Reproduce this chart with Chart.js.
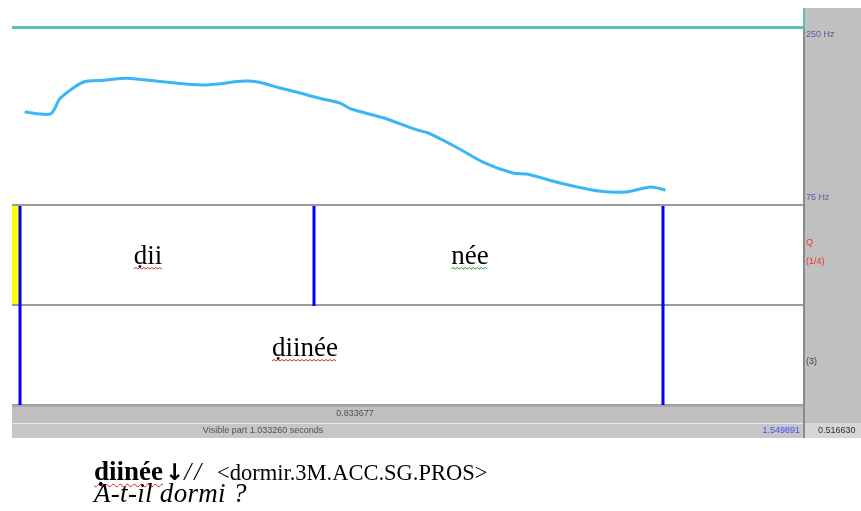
<!DOCTYPE html>
<html>
<head>
<meta charset="utf-8">
<script src="https://cdn.jsdelivr.net/npm/chart.js@4"></script>
<style>
  body { margin: 0; background: #ffffff; }
  #wrap { position: relative; width: 861px; height: 511px; }
  .gl { position: absolute; left: 94px; font-family: "Liberation Serif", "Times New Roman", serif; color: #000; white-space: nowrap; }
  #line1 { top: 458px; font-size: 27px; line-height: 27px; }
  #line2 { top: 480px; font-size: 27px; line-height: 27px; font-style: italic; letter-spacing: 0.3px; }
  #line1 .w { font-weight: bold; text-decoration: underline wavy #e02020; text-decoration-thickness: 1px; text-underline-offset: 3px; text-decoration-skip-ink: none; }
  #line1 .arr { font-family: "DejaVu Sans", sans-serif; font-weight: bold; font-size: 23px; margin-left: 2px; }
  #line1 .sl { font-style: italic; font-size: 25px; letter-spacing: 3px; }
  #line1 .tag { font-size: 22.5px; margin-left: 6px; }
</style>
</head>
<body>
<div id="wrap">
  <canvas id="chart"></canvas>
  <div class="gl" id="line1"><span class="w">ḍiinée</span><span class="arr">↓</span><span class="sl">//</span> <span class="tag">&lt;dormir.3M.ACC.SG.PROS&gt;</span></div>
  <div class="gl" id="line2">A-t-il dormi ?</div>
</div>
<script>
// visible window (seconds) and pitch range (Hz)
const tStart = 0.516631;
const tEnd = 1.549891;
const pitchMin = 75;
const pitchMax = 250;
const pitchLabels = ["250 Hz", "75 Hz"];

// pitch contour
const times = [0.5332, 0.5669, 0.5799, 0.6100, 0.6368, 0.6669, 0.7165, 0.7661, 0.8197, 0.8380,
               0.8667, 0.8883, 0.9170, 0.9451, 0.9595, 1.0026, 1.0457, 1.0600, 1.0966, 1.1318,
               1.1711, 1.1893, 1.2324, 1.2829, 1.3187, 1.3509, 1.3704];
const hz = [166.9, 165.0, 180.8, 196.6, 198.4, 200.4, 196.5, 193.6, 197.5, 196.6,
            190.7, 186.7, 180.8, 175.8, 169.9, 161.0, 149.2, 146.2, 132.3, 117.5,
            106.6, 105.6, 96.8, 88.8, 87.9, 92.8, 89.8];

// text grid: boundaries (s) and labels
const tier1Bounds = [0.5271, 0.9111, 1.3670];
const tier1Labels = ["ḍii", "née"];
const tier2Bounds = [0.5271, 1.3670];
const tier2Labels = ["ḍiinée"];
const tierNames = [["Q", "(1/4)"], ["(3)"]];

const selDuration = "0.833677";
const visibleText = "Visible part 1.033260 seconds";
const endText = "1.549891";
const restText = "0.516630";

// layout
const left = 12, right = 803, pitchTop = 28, tier1Top = 205, tier2Top = 305, tierBottom = 405;
const bar1Bottom = 423, bar2Bottom = 438;
const tier1LabelX = [148, 470];   // label centres as placed in the screenshot
const tier2LabelX = [305];
const serif = '"Liberation Serif", "Times New Roman", serif';
const sans = '"Liberation Sans", Arial, sans-serif';

function squiggle(ctx, x0, x1, y, color) {
    ctx.save();
    ctx.strokeStyle = color;
    ctx.lineWidth = 1;
    ctx.beginPath();
    let up = true;
    ctx.moveTo(x0, y);
    for (let x = x0 + 2; x <= x1; x += 2) {
        ctx.lineTo(x, up ? y - 1.5 : y);
        up = !up;
    }
    ctx.stroke();
    ctx.restore();
}

const praatFrame = {
    id: 'praatFrame',
    beforeDraw(chart) {
        const ctx = chart.ctx;
        const xs = chart.scales.x;
        ctx.save();
        // right side panel
        ctx.fillStyle = '#c0c0c0';
        ctx.fillRect(right, 8, 861 - right, bar1Bottom - 8);
        ctx.fillStyle = '#d6d6d6';
        ctx.fillRect(right, bar1Bottom, 861 - right, bar2Bottom - bar1Bottom);
        ctx.fillStyle = '#8a8a8a';
        ctx.fillRect(right, 8, 2, bar2Bottom - 8);

        // teal frame line
        ctx.fillStyle = '#5cbfb5';
        ctx.fillRect(left, pitchTop - 2, right - left + 1, 3);
        ctx.fillRect(right, 8, 2, pitchTop - 7);

        // tier borders
        ctx.fillStyle = '#9a9a9a';
        [tier1Top, tier2Top, tierBottom].forEach(y => ctx.fillRect(left, y - 1, right - left, 2));

        // yellow selection strip before the first boundary
        ctx.fillStyle = '#ffff00';
        ctx.fillRect(left, tier1Top + 1, xs.getPixelForValue(tier1Bounds[0]) - left - 1, tier2Top - tier1Top - 2);

        // boundaries
        ctx.fillStyle = '#0000ff';
        tier1Bounds.forEach(b => ctx.fillRect(xs.getPixelForValue(b) - 1.5, tier1Top + 1, 3, tier2Top - tier1Top));
        tier2Bounds.forEach(b => ctx.fillRect(xs.getPixelForValue(b) - 1.5, tier2Top, 3, tierBottom - tier2Top));

        // interval labels
        ctx.font = '27px ' + serif;
        ctx.textAlign = 'center';
        ctx.textBaseline = 'alphabetic';
        tier1Labels.forEach((lab, i) => {
            const cx = tier1LabelX[i];
            ctx.fillStyle = '#000';
            ctx.fillText(lab, cx, 264);
            const w = ctx.measureText(lab).width;
            squiggle(ctx, cx - w / 2, cx + w / 2, 269, i === 0 ? '#e02020' : '#20a020');
        });
        tier2Labels.forEach((lab, i) => {
            const cx = tier2LabelX[i];
            ctx.fillStyle = '#000';
            ctx.fillText(lab, cx, 356);
            const w = ctx.measureText(lab).width;
            squiggle(ctx, cx - w / 2, cx + w / 2, 361, '#e02020');
        });

        // bottom bars
        ctx.fillStyle = '#c0c0c0';
        ctx.fillRect(left, tierBottom, right - left, bar1Bottom - tierBottom);
        ctx.fillStyle = '#c6c6c6';
        ctx.fillRect(left, bar1Bottom, right - left, bar2Bottom - bar1Bottom);
        ctx.fillStyle = '#a8a8a8';
        ctx.fillRect(left, tierBottom, right - left, 2);
        ctx.fillStyle = '#e8e8e8';
        ctx.fillRect(left, bar1Bottom, right - left, 1);

        ctx.font = '9px ' + sans;
        ctx.textBaseline = 'middle';
        ctx.fillStyle = '#505050';
        ctx.textAlign = 'center';
        ctx.fillText(selDuration, 355, 414);
        ctx.fillText(visibleText, 263, 431);
        ctx.fillStyle = '#4848ff';
        ctx.textAlign = 'right';
        ctx.fillText(endText, 800, 431);
        ctx.fillStyle = '#303030';
        ctx.textAlign = 'left';
        ctx.fillText(restText, 818, 431);

        // side labels
        ctx.fillStyle = '#5858a8';
        ctx.fillText(pitchLabels[0], 806, 35);
        ctx.fillText(pitchLabels[1], 806, 198);
        ctx.fillStyle = '#f03030';
        ctx.fillText(tierNames[0][0], 806, 243);
        ctx.fillText(tierNames[0][1], 806, 262);
        ctx.fillStyle = '#404040';
        ctx.fillText(tierNames[1][0], 806, 362);
        ctx.restore();
    }
};

new Chart(document.getElementById('chart'), {
    type: 'line',
    data: {
        datasets: [{
            data: times.map((t, i) => ({x: t, y: hz[i]})),
            borderColor: '#3ab6f4',
            borderWidth: 3,
            pointRadius: 0,
            tension: 0.25,
            fill: false
        }]
    },
    options: {
        responsive: true,
        maintainAspectRatio: false,
        animation: false,
        events: [],
        layout: { padding: { left: left, right: 861 - right, top: pitchTop, bottom: 511 - tier1Top } },
        plugins: { legend: { display: false }, tooltip: { enabled: false } },
        scales: {
            x: { type: 'linear', min: tStart, max: tEnd, display: false },
            y: { min: pitchMin, max: pitchMax, display: false }
        }
    },
    plugins: [praatFrame]
});
</script>
</body>
</html>
